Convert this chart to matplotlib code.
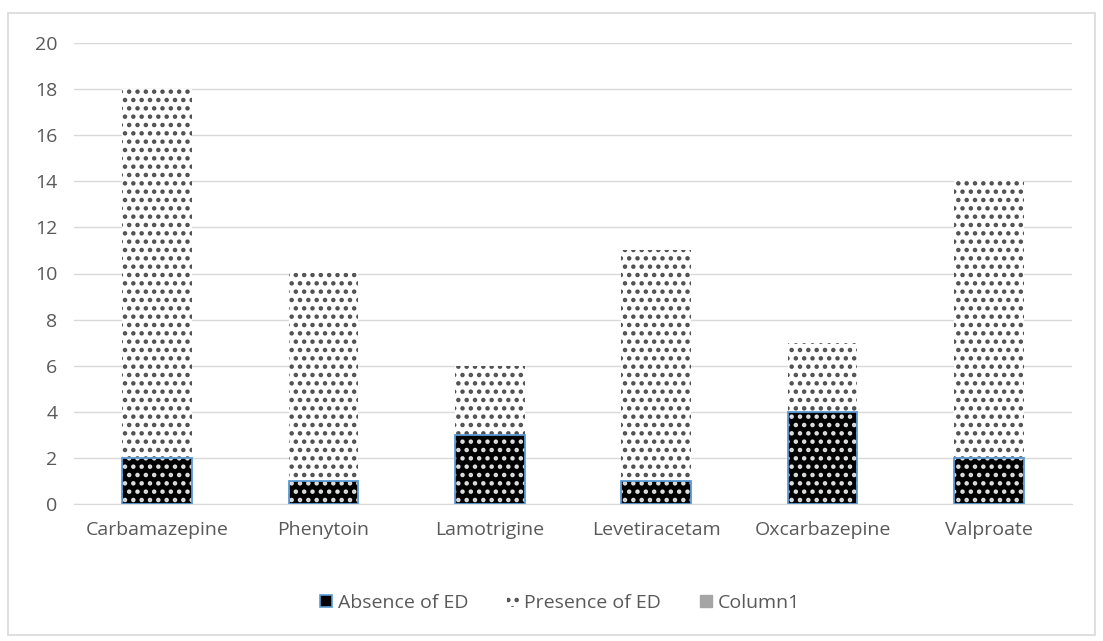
import numpy as np
import matplotlib
matplotlib.use("Agg")
import matplotlib.pyplot as plt
from matplotlib.patches import Rectangle, Patch

drugs = ["Carbamazepine", "Phenytoin", "Lamotrigine", "Levetiracetam", "Oxcarbazepine", "Valproate"]
absence = [2, 1, 3, 1, 4, 2]
presence = [16, 9, 3, 10, 3, 12]
yticks = [0, 2, 4, 6, 8, 10, 12, 14, 16, 18, 20]

plt.rcParams["font.family"] = ["Open Sans", "DejaVu Sans"]
plt.rcParams["hatch.linewidth"] = 2.0
INK = "#595959"
GRID = "#d9d9d9"
BLUE = "#5b9bd5"

fig = plt.figure(figsize=(11.03, 6.41), dpi=100)
ax = fig.add_axes([74 / 1103, 1 - 504 / 641, 998 / 1103, 461 / 641])
fig.patches.append(Rectangle((8 / 1103, 1 - 635 / 641), 1087 / 1103, 622 / 641,
                             transform=fig.transFigure, fill=False, ec=GRID, lw=1.2))

x = np.arange(len(drugs))
w = 0.42
# presence of ED: white with dark dots
ax.bar(x, presence, w, bottom=absence, color="white", edgecolor="#505050",
       hatch="..", linewidth=0, zorder=2)
# absence of ED: black with white dots, blue outline drawn separately
ax.bar(x, absence, w, color="black", edgecolor="#e0e0e0", hatch="..", linewidth=0, zorder=2)
ax.bar(x, absence, w, fill=False, edgecolor=BLUE, linewidth=1.3, zorder=3)

ax.set_xlim(-0.5, len(drugs) - 0.5)
ax.set_ylim(0, 20)
ax.set_yticks(yticks)
ax.set_xticks(x, drugs)
ax.grid(axis="y", color=GRID, lw=1)
ax.set_axisbelow(True)
for s in ["top", "right", "left"]:
    ax.spines[s].set_visible(False)
ax.spines["bottom"].set_color(GRID)
ax.tick_params(length=0, colors=INK, labelsize=14)
ax.tick_params(axis="x", pad=12)
ax.tick_params(axis="y", pad=12)

handles = [
    Patch(facecolor="black", edgecolor=BLUE, linewidth=1.2),
    Patch(facecolor="white", edgecolor="#505050", hatch="..", linewidth=0),
    Patch(facecolor="#a5a5a5", edgecolor="#a5a5a5"),
]
fig.legend(handles, ["Absence of ED", "Presence of ED", "Column1"], loc="center",
           bbox_to_anchor=(560 / 1103, 1 - 603 / 641), ncol=3, frameon=False,
           fontsize=14, labelcolor=INK, handlelength=0.6, handleheight=0.6,
           handletextpad=0.3, columnspacing=2.0)

fig.savefig("out.png", dpi=100)
